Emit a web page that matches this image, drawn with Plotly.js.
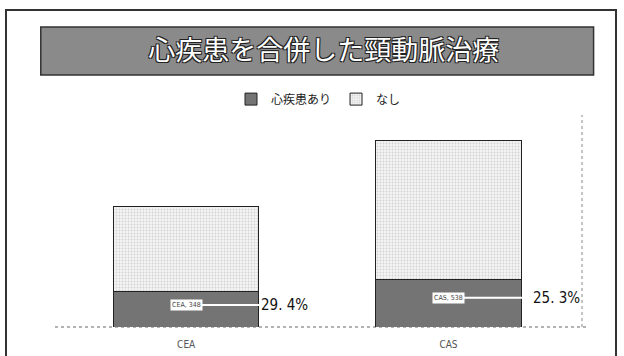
<!DOCTYPE html>
<html>
<head>
<meta charset="utf-8">
<script src="https://cdn.plot.ly/plotly-3.0.1.min.js"></script>
<style>
  html, body { margin: 0; padding: 0; background: #fff; overflow: hidden; }
  #wrap { position: relative; width: 624px; height: 356px; }
  #frame { position: absolute; left: 5px; top: 9px; width: 612px; height: 360px;
           border: 2px solid #333; box-sizing: border-box; pointer-events: none; }
  #chart { position: absolute; left: 0; top: 0; width: 624px; height: 356px; }
</style>
</head>
<body>
<div id="wrap">
  <div id="chart"></div>
  <div id="frame"></div>
</div>
<script>
// Carotid treatment groups, patient totals and share with heart disease (%)
const categories = ['CEA', 'CAS'];
const totals = [348, 538];
const heartPct = [29.4, 25.3];
const seriesNames = ['心疾患あり', 'なし'];
const chartTitle = '心疾患を合併した頸動脈治療';

// Split each total into the heart-disease part and the rest
const withHeart = totals.map((t, i) => t * heartPct[i] / 100);
const without = totals.map((t, i) => t - withHeart[i]);

const cjk = '"Noto Sans CJK JP", "Noto Sans", sans-serif';
const narrow = '"Liberation Sans Narrow", "DejaVu Sans Condensed", "Liberation Sans", sans-serif';

const traces = [
  {
    type: 'bar', name: seriesNames[0], x: categories, y: withHeart,
    marker: {
      color: '#828282',
      line: { color: '#222', width: 1 },
      pattern: { shape: '.', bgcolor: '#959595', fgcolor: '#4a4a4a', size: 2, solidity: 0.5 }
    },
    hoverinfo: 'skip'
  },
  {
    type: 'bar', name: seriesNames[1], x: categories, y: without,
    marker: {
      color: '#f2f2f2',
      line: { color: '#222', width: 1 },
      pattern: { shape: '.', bgcolor: '#f5f5f5', fgcolor: '#d2d2d2', size: 3, solidity: 0.3 }
    },
    hoverinfo: 'skip'
  }
];

// Horizontal offset (px) of each percentage label from its bar centre
const labelShift = [98, 108];

const annotations = [];
categories.forEach((c, i) => {
  const yLine = withHeart[i] * 0.62;
  annotations.push({
    x: c, y: yLine, xref: 'x', yref: 'y',
    text: heartPct[i].toFixed(1).replace('.', '. ') + '%',
    showarrow: true, arrowhead: 0, arrowwidth: 2, arrowcolor: '#ffffff',
    ax: labelShift[i], ay: 0,
    font: { family: narrow, size: 15, color: '#111' }
  });
  annotations.push({
    x: c, y: yLine, xref: 'x', yref: 'y',
    text: c + ', ' + totals[i],
    showarrow: false, bgcolor: '#ffffff', borderpad: 1,
    font: { family: narrow, size: 7, color: '#444' }
  });
});

const layout = {
  width: 624, height: 356,
  margin: { l: 55, r: 42, t: 115, b: 29 },
  paper_bgcolor: '#ffffff', plot_bgcolor: '#ffffff',
  barmode: 'stack', bargap: 0.445,
  showlegend: true,
  legend: {
    orientation: 'h', x: 0.5, xanchor: 'center', y: 1.075, yanchor: 'middle',
    font: { family: cjk, size: 12, color: '#222' },
    itemwidth: 30, tracegroupgap: 0, traceorder: 'normal',
    itemclick: false, itemdoubleclick: false
  },
  title: {
    text: chartTitle, x: 0.51, xref: 'paper', xanchor: 'center',
    y: 1 - 51 / 356, yref: 'container', yanchor: 'middle',
    font: {
      family: cjk, size: 27, color: '#ffffff',
      shadow: '1px 1px 0 #222, -1px -1px 0 #222, 1px -1px 0 #222, -1px 1px 0 #222'
    }
  },
  xaxis: {
    showgrid: false, zeroline: false, showline: false, ticks: '',
    tickfont: { family: narrow, size: 10, color: '#555' },
    ticklabelstandoff: 10, fixedrange: true
  },
  yaxis: {
    range: [0, 610], visible: false, fixedrange: true
  },
  shapes: [
    // title banner
    { type: 'rect', xref: 'paper', yref: 'paper', layer: 'below',
      x0: -0.027, x1: 1.022, y0: 1.189, y1: 1.415,
      fillcolor: '#8a8a8a', line: { color: '#333', width: 1.5 } },
    // dotted baseline and right-hand edge
    { type: 'line', xref: 'paper', yref: 'paper', x0: 0, x1: 1.01, y0: 0, y1: 0,
      line: { color: '#666', width: 1, dash: 'dot' }, layer: 'below' },
    { type: 'line', xref: 'paper', yref: 'paper', x0: 1, x1: 1, y0: 0, y1: 1,
      line: { color: '#888', width: 1, dash: 'dot' }, layer: 'below' }
  ],
  annotations: annotations
};

Plotly.newPlot('chart', traces, layout, { displayModeBar: false, staticPlot: true });
</script>
</body>
</html>
